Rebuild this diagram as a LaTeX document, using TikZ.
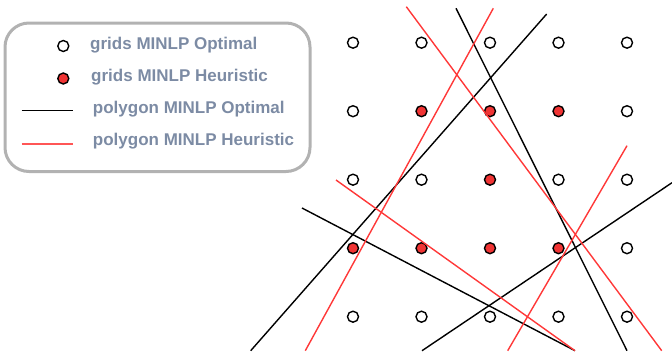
\documentclass[tikz,border=0pt]{standalone}
\usepackage{fontspec}
\setmainfont{Liberation Sans}
\usetikzlibrary{positioning}
\definecolor{ink}{HTML}{000000}
\definecolor{hot}{HTML}{F03434}
\definecolor{hotline}{HTML}{FF3838}
\definecolor{legtxt}{HTML}{7C8BA4}
\definecolor{rule}{HTML}{B2B2B2}

\begin{document}
\begin{tikzpicture}[x=1pt,y=-1pt,font=\fontsize{17}{20}\selectfont\bfseries,
  gridpt/.style={circle,draw=ink,line width=1.4pt,fill=white,minimum size=11pt,inner sep=0pt},
  hotpt/.style={gridpt,fill=hot},
  optline/.style={ink,line width=1.4pt},
  heurline/.style={hotline,line width=1.4pt},
  legtext/.style={legtxt,anchor=west}]
\useasboundingbox (0,0) rectangle (672,356);
% grid points
\foreach \c/\r in {1/1,2/1,3/1,4/1,5/1,1/2,5/2,1/3,2/3,4/3,5/3,5/4,1/5,2/5,3/5,4/5,5/5}
  \node[gridpt] (g\c\r) at ({353+68.5*(\c-1)},{42.7+68.5*(\r-1)}) {};
\foreach \c/\r in {2/2,3/2,4/2,3/3,1/4,2/4,3/4,4/4}
  \node[hotpt] (g\c\r) at ({353+68.5*(\c-1)},{42.7+68.5*(\r-1)}) {};
% polygon ends
\coordinate (oa1) at (456,8.3);   \coordinate (oa2) at (627,350.7);
\coordinate (ob1) at (546.7,14);  \coordinate (ob2) at (250.7,350.7);
\coordinate (oc1) at (302,208);   \coordinate (oc2) at (575,350.7);
\coordinate (od1) at (672,182.7); \coordinate (od2) at (422,350.7);
\coordinate (ha1) at (406.3,6.7); \coordinate (ha2) at (661.7,350.7);
\coordinate (hb1) at (493.3,8.3); \coordinate (hb2) at (305.3,350.7);
\coordinate (hc1) at (336,180);   \coordinate (hc2) at (575,350.7);
\coordinate (hd1) at (627,145.7); \coordinate (hd2) at (507.7,350.7);
% optimal polygon
\foreach \k in {a,b,c,d}
  \draw[optline] (o\k1) -- (o\k2);
% heuristic polygon
\foreach \k in {a,b,c,d}
  \draw[heurline] (h\k1) -- (h\k2);
% legend
\draw[rule,line width=3pt,rounded corners=24pt] (5,23) rectangle (310,171.5);
\node[gridpt] (kopt) at (63.3,46) {};
\node[hotpt] (kheur) at (63.3,78.5) {};
\coordinate (kl1) at (21.7,110.7); \coordinate (kl2) at (73.3,110.7);
\coordinate (km1) at (21.7,144);   \coordinate (km2) at (73.3,144);
\draw[optline] (kl1) -- (kl2);
\draw[hotline!85,line width=1.4pt] (km1) -- (km2);
\node[legtext] (topt) at (86.7,45.5) {grids MINLP Optimal};
\node[legtext] (theur) at (87.7,77.5) {grids MINLP Heuristic};
\node[legtext] (popt) at (89.4,109.5) {polygon MINLP Optimal};
\node[legtext] (pheur) at (89.4,141.5) {polygon MINLP Heuristic};
\end{tikzpicture}
\end{document}
